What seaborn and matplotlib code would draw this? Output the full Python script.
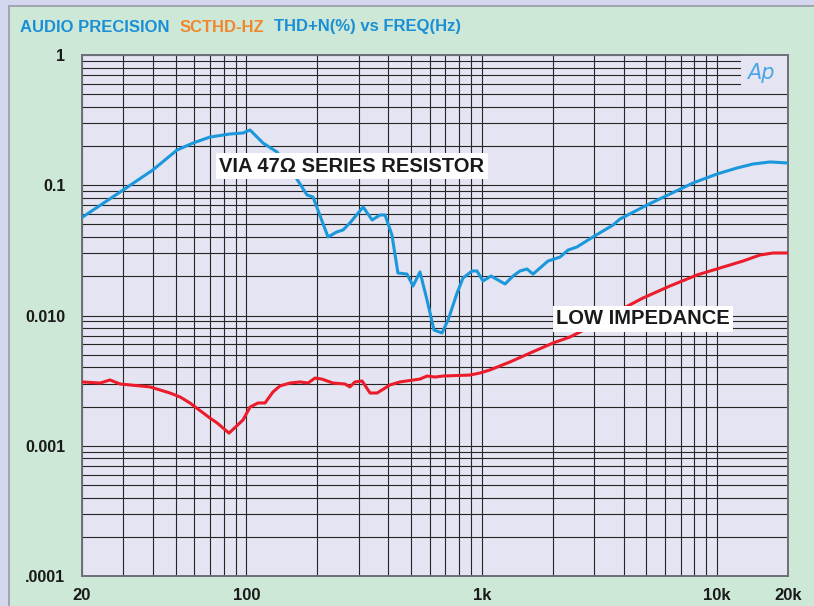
import matplotlib

matplotlib.use("Agg")

import matplotlib.pyplot as plt
import numpy as np
import pandas as pd
import seaborn as sns
from matplotlib.patches import Rectangle
from matplotlib.ticker import FixedLocator, LogLocator, NullFormatter

series_freq = [
    20, 29.9, 40, 50.7, 59.3, 70, 85, 96.7, 103.5, 117.5, 134.8, 157.6, 180.8, 191.7,
    222, 242, 257, 275, 313, 342, 369, 388, 415, 440, 481, 510, 546, 585, 626, 677,
    719, 785, 832, 909, 954, 1012, 1094, 1255, 1357, 1453, 1556, 1650, 1911, 2150,
    2325, 2538, 2968, 3610, 3866, 5036, 6302, 7896, 9986, 12146, 14204, 16776, 20000,
]
series_thd = [
    0.0566, 0.0919, 0.131, 0.1865, 0.211, 0.2346, 0.2474, 0.2519, 0.2656, 0.211, 0.180,
    0.1242, 0.0842, 0.0813, 0.0401, 0.0438, 0.0453, 0.0513, 0.0681, 0.0541, 0.0591,
    0.0591, 0.0415, 0.0212, 0.0208, 0.01685, 0.0216, 0.01315, 0.00774, 0.00734,
    0.00924, 0.01489, 0.0194, 0.02196, 0.02196, 0.0184, 0.0201, 0.01745, 0.0201,
    0.02196, 0.02275, 0.0208, 0.0262, 0.0281, 0.0318, 0.0336, 0.0401, 0.0495, 0.0551,
    0.0705, 0.0857, 0.1041, 0.122, 0.1357, 0.1456, 0.1509, 0.1482,
]

low_freq = [
    20, 23.9, 26.3, 29.0, 38.9, 47.3, 52.2, 57.5, 70, 74.9, 84.3, 96.7, 103.5, 111.9,
    119.9, 129.6, 138.8, 153, 168.8, 182.6, 195.5, 209, 233, 262, 275, 289, 310, 335,
    359, 407, 449, 546, 585, 632, 684, 891, 983, 1083, 1318, 1603, 2007, 2370, 2883,
    3866, 4842, 6302, 8212, 10284, 12883, 15208, 17276, 20000,
]
low_thd = [
    0.00309, 0.00303, 0.0032, 0.00298, 0.00283, 0.00254, 0.00237, 0.00213, 0.00163,
    0.0015, 0.00125, 0.00158, 0.00198, 0.00213, 0.00213, 0.00259, 0.00288, 0.00303,
    0.00309, 0.00303, 0.00331, 0.00325, 0.00303, 0.00298, 0.00283, 0.00309, 0.00314,
    0.00254, 0.00254, 0.00293, 0.00309, 0.00325, 0.00343, 0.00337, 0.00343, 0.00349,
    0.00362, 0.00382, 0.0044, 0.00515, 0.00615, 0.00684, 0.00816, 0.01102, 0.01363,
    0.01685, 0.02047, 0.02316, 0.0262, 0.02914, 0.0302, 0.0302,
]

x_ticks = [20, 100, 1000, 10000, 20000]
x_labels = ["20", "100", "1k", "10k", "20k"]
y_ticks = [1, 0.1, 0.01, 0.001, 0.0001]
y_labels = ["1", "0.1", "0.010", "0.001", ".0001"]

BLUE = "#1b98dc"
RED = "#ec1c2a"
GREEN = "#cde8d6"
LAVENDER = "#e4e4f2"
FRAME = "#d3d8ee"
FONT = ["Liberation Sans", "DejaVu Sans"]

sns.set_theme(style="white")
plt.rcParams["font.family"] = FONT

curves = pd.concat([
    pd.DataFrame({"freq": series_freq, "thd": series_thd, "curve": "series"}),
    pd.DataFrame({"freq": low_freq, "thd": low_thd, "curve": "low"}),
])

fig = plt.figure(figsize=(8.14, 6.06), dpi=100, facecolor=FRAME)
# green panel with a thin grey rule on the left/top
fig.patches.append(Rectangle((9 / 814, -0.01), 1.0, 1.01 - 6 / 606, transform=fig.transFigure,
                             facecolor=GREEN, edgecolor="#9a9aa6", linewidth=1.2, zorder=-5))

ax = fig.add_axes([82 / 814, 30 / 606, 706 / 814, 521 / 606])
ax.set_facecolor(LAVENDER)

sns.lineplot(data=curves, x="freq", y="thd", hue="curve", palette={"series": BLUE, "low": RED},
             estimator=None, sort=False, linewidth=2.2, legend=False, ax=ax, zorder=4)

ax.set_xscale("log")
ax.set_yscale("log")
ax.set_xlim(20, 20000)
ax.set_ylim(0.0001, 1)

ax.xaxis.set_major_locator(FixedLocator(x_ticks))
ax.set_xticklabels(x_labels)
ax.yaxis.set_major_locator(FixedLocator(y_ticks))
ax.set_yticklabels(y_labels)
ax.xaxis.set_minor_locator(LogLocator(base=10, subs=np.arange(1, 10), numticks=50))
ax.yaxis.set_minor_locator(LogLocator(base=10, subs=np.arange(1, 10), numticks=50))
ax.xaxis.set_minor_formatter(NullFormatter())
ax.yaxis.set_minor_formatter(NullFormatter())
ax.tick_params(which="both", length=0)
ax.tick_params(axis="x", pad=9, labelsize=12)
ax.tick_params(axis="y", pad=12, labelsize=11.5)
for lab in ax.get_xticklabels() + ax.get_yticklabels():
    lab.set_fontweight("bold")
    lab.set_color("#1a1a1a")

ax.grid(which="both", color="#262626", linewidth=0.8)
ax.set_axisbelow(True)
for sp in ax.spines.values():
    sp.set_color("#6e6e78")
    sp.set_linewidth(1.4)
ax.set_xlabel("")
ax.set_ylabel("")

# clear corner for the Ap mark
ax.add_patch(Rectangle((0.933, 0.94), 0.067, 0.06, transform=ax.transAxes,
                       facecolor=LAVENDER, edgecolor="none", zorder=2))
ax.text(0.962, 0.966, "Ap", transform=ax.transAxes, ha="center", va="center",
        fontsize=15, style="italic", fontweight="light", color="#4aa6e4",
        family=["DejaVu Sans"], zorder=3)

box = dict(facecolor="white", edgecolor="none", pad=2.5)
ax.text(270 / 706, (576 - 166) / 521, "VIA 47Ω SERIES RESISTOR", transform=ax.transAxes,
        ha="center", va="center", fontsize=14.5, fontweight="bold", color="#1a1a1a",
        bbox=box, zorder=5)
ax.text(561 / 706, (576 - 319) / 521, "LOW IMPEDANCE", transform=ax.transAxes,
        ha="center", va="center", fontsize=14.5, fontweight="bold", color="#1a1a1a",
        bbox=box, zorder=5)

ty = 1 - 27 / 606
fig.text(20 / 814, ty, "AUDIO PRECISION", color="#1a8fd6", fontsize=12, fontweight="bold", va="center")
fig.text(180 / 814, ty, "SCTHD-HZ", color="#f0872e", fontsize=12, fontweight="bold", va="center")
fig.text(274 / 814, ty, "THD+N(%) vs FREQ(Hz)", color="#1a8fd6", fontsize=12, fontweight="bold", va="center")

fig.savefig("out.png", dpi=100, facecolor=FRAME)
